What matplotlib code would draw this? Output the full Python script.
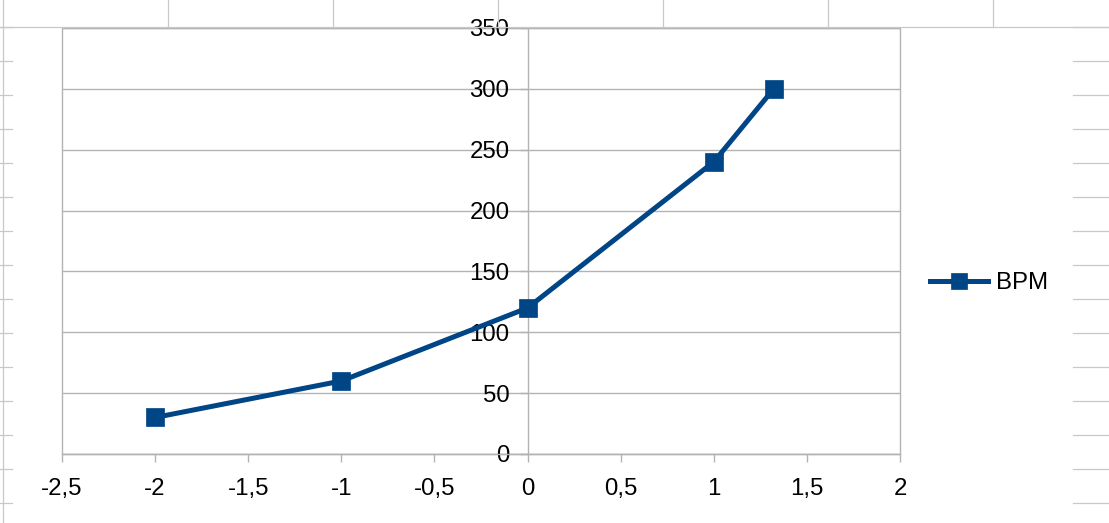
import matplotlib
matplotlib.use("Agg")
import matplotlib.pyplot as plt
from matplotlib.lines import Line2D
import numpy as np

# ---- data ----
x_values = [-2, -1, 0, 1, 1.3219]
bpm_values = [30, 60, 120, 240, 300]
series_name = "BPM"
x_ticks = [-2.5, -2, -1.5, -1, -0.5, 0, 0.5, 1, 1.5, 2]
x_tick_labels = ["-2,5", "-2", "-1,5", "-1", "-0,5", "0", "0,5", "1", "1,5", "2"]
y_ticks = [0, 50, 100, 150, 200, 250, 300, 350]
y_tick_labels = ["0", "50", "100", "150", "200", "250", "300", "350"]

W, H = 1109, 523
plt.rcParams['font.family'] = ['Liberation Sans', 'DejaVu Sans']
fig = plt.figure(figsize=(W / 100, H / 100), dpi=100)
fig.patch.set_facecolor('white')

# ---- spreadsheet grid in the background ----
sheet_col = '#c8c8c8'
row_h, col_w = 34, 165
chart_left, chart_right, chart_top = 12, 1073, 27
def fx(px): return px / W
def fy(py): return 1 - py / H
for xc in np.arange(3, W, col_w):
    y_end = H if xc < chart_left else chart_top
    fig.add_artist(Line2D([fx(xc), fx(xc)], [fy(0), fy(y_end)], color=sheet_col, lw=0.9))
fig.add_artist(Line2D([0, 1], [fy(chart_top), fy(chart_top)], color=sheet_col, lw=0.9))
for yr in np.arange(chart_top, H, row_h):
    fig.add_artist(Line2D([0, fx(chart_left)], [fy(yr), fy(yr)], color=sheet_col, lw=0.9))
    fig.add_artist(Line2D([fx(chart_right), 1], [fy(yr), fy(yr)], color=sheet_col, lw=0.9))

# ---- chart ----
ax = fig.add_axes([62 / W, 1 - 454 / H, (900 - 62) / W, (454 - 28) / H])
grid_col = '#b3b3b3'
ax.set_xlim(x_ticks[0], x_ticks[-1])
ax.set_ylim(y_ticks[0], y_ticks[-1])
ax.patch.set_facecolor('white')
ax.patch.set_edgecolor(grid_col)
ax.patch.set_linewidth(1.0)

for s in ['top', 'right']:
    ax.spines[s].set_visible(False)
ax.spines['left'].set_position(('data', 0))
ax.spines['left'].set_color(grid_col)
ax.spines['bottom'].set_color(grid_col)
ax.spines['left'].set_linewidth(1.0)
ax.spines['bottom'].set_linewidth(1.0)

fs = 17.3
ax.set_xticks(x_ticks)
ax.set_xticklabels(x_tick_labels)
ax.set_yticks(y_ticks)
ax.set_yticklabels(y_tick_labels)
ax.yaxis.grid(True, color=grid_col, lw=1.0)
ax.set_axisbelow(True)
ax.tick_params(axis='x', direction='out', length=6, width=1.0, color=grid_col,
               labelsize=fs, pad=11, labelcolor='black')
ax.tick_params(axis='y', direction='out', length=6, width=1.0, color=grid_col,
               labelsize=fs, pad=7, labelcolor='black')

line_col = '#004586'
ax.plot(x_values, bpm_values, color=line_col, lw=3.6, marker='s', markersize=13,
        markerfacecolor=line_col, markeredgecolor=line_col, markeredgewidth=0.5,
        label=series_name, clip_on=False, zorder=5)

leg = fig.legend(loc='center left', bbox_to_anchor=(930 / W, 1 - 283 / H),
                 frameon=False, fontsize=fs, handlelength=2.4, handletextpad=0.33,
                 borderpad=0, borderaxespad=0, markerscale=0.85)

fig.savefig('out.png', dpi=100, facecolor='white')
